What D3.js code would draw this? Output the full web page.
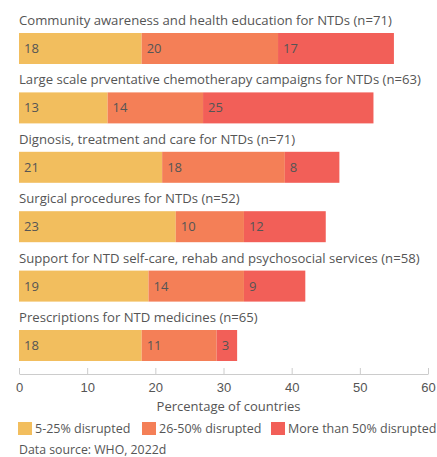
<!DOCTYPE html>
<html>
<head>
<meta charset="utf-8">
<script src="https://cdn.jsdelivr.net/npm/d3@7"></script>
<style>
  body { margin: 0; background: #fff; }
  svg { font-family: "Open Sans", sans-serif; }
  .axis text { font-size: 13px; fill: #555; }
  .axis line, .axis path { stroke: #ccc; }
</style>
</head>
<body>
<svg width="437" height="457"></svg>
<script>
const categories = [
  "Community awareness and health education for NTDs (n=71)",
  "Large scale prventative chemotherapy campaigns for NTDs (n=63)",
  "Dignosis, treatment and care for NTDs (n=71)",
  "Surgical procedures for NTDs (n=52)",
  "Support for NTD self-care, rehab and psychosocial services (n=58)",
  "Prescriptions for NTD medicines (n=65)"
];
const low = [18, 13, 21, 23, 19, 18];
const mid = [20, 14, 18, 10, 14, 11];
const high = [17, 25, 8, 12, 9, 3];
const seriesNames = ["5-25% disrupted", "26-50% disrupted", "More than 50% disrupted"];
const ticks = [0, 10, 20, 30, 40, 50, 60];

const colors = ["#f2be5e", "#f47f57", "#f25f58"];
const textColor = "#555";

const svg = d3.select("svg");

const rows = categories.map((c, i) => ({ name: c, low: low[i], mid: mid[i], high: high[i] }));
const stack = d3.stack().keys(["low", "mid", "high"])(rows);

const x = d3.scaleLinear().domain([0, 60]).range([19, 428]);
const y = d3.scaleBand().domain(categories).range([33, 389.4]).padding(0);
const barH = 31;

// row titles
svg.append("g")
   .selectAll("text")
   .data(categories)
   .enter()
   .append("text")
   .attr("x", x(0))
   .attr("y", d => y(d) - 8)
   .attr("font-size", 13.15)
   .attr("fill", textColor)
   .text(d => d);

// stacked bars
const layers = svg.append("g")
   .selectAll("g")
   .data(stack)
   .enter()
   .append("g")
   .attr("fill", (d, i) => colors[i]);

layers.selectAll("rect")
   .data(d => d)
   .enter()
   .append("rect")
   .attr("x", d => x(d[0]))
   .attr("y", d => y(d.data.name))
   .attr("width", d => x(d[1]) - x(d[0]))
   .attr("height", barH);

layers.selectAll("text")
   .data(d => d)
   .enter()
   .append("text")
   .attr("x", d => x(d[0]) + 5)
   .attr("y", d => y(d.data.name) + barH / 2)
   .attr("dy", "0.35em")
   .attr("font-size", 13)
   .attr("fill", textColor)
   .text(d => d[1] - d[0]);

// x axis
const axis = d3.axisBottom(x).tickValues(ticks).tickSize(-6).tickSizeOuter(0).tickPadding(9);
svg.append("g")
   .attr("class", "axis")
   .attr("transform", "translate(0, 374)")
   .call(axis);

svg.append("text")
   .attr("x", x(30) + 5)
   .attr("y", 406)
   .attr("dy", "0.35em")
   .attr("text-anchor", "middle")
   .attr("font-size", 13)
   .attr("fill", textColor)
   .text("Percentage of countries");

// legend
const legendX = [18, 142, 271];
const legend = svg.append("g")
   .selectAll("g")
   .data(seriesNames)
   .enter()
   .append("g")
   .attr("transform", (d, i) => `translate(${legendX[i]}, 422)`);

legend.append("rect")
   .attr("width", 14)
   .attr("height", 13)
   .attr("fill", (d, i) => colors[i]);

legend.append("text")
   .attr("x", 17)
   .attr("y", 6.5)
   .attr("dy", "0.35em")
   .attr("font-size", 12.5)
   .attr("fill", textColor)
   .text(d => d);

// keep the last legend label inside the frame
legend.selectAll("text").each(function (d, i) {
  const end = legendX[i] + 17 + this.getComputedTextLength();
  if (end > 435) {
    d3.select(this).attr("font-size", 12.5 * (435 - legendX[i] - 17) / (end - legendX[i] - 17));
  }
});

svg.append("text")
   .attr("x", x(0))
   .attr("y", 450)
   .attr("dy", "0.35em")
   .attr("font-size", 12.3)
   .attr("fill", textColor)
   .text("Data source: WHO, 2022d");
</script>
</body>
</html>
